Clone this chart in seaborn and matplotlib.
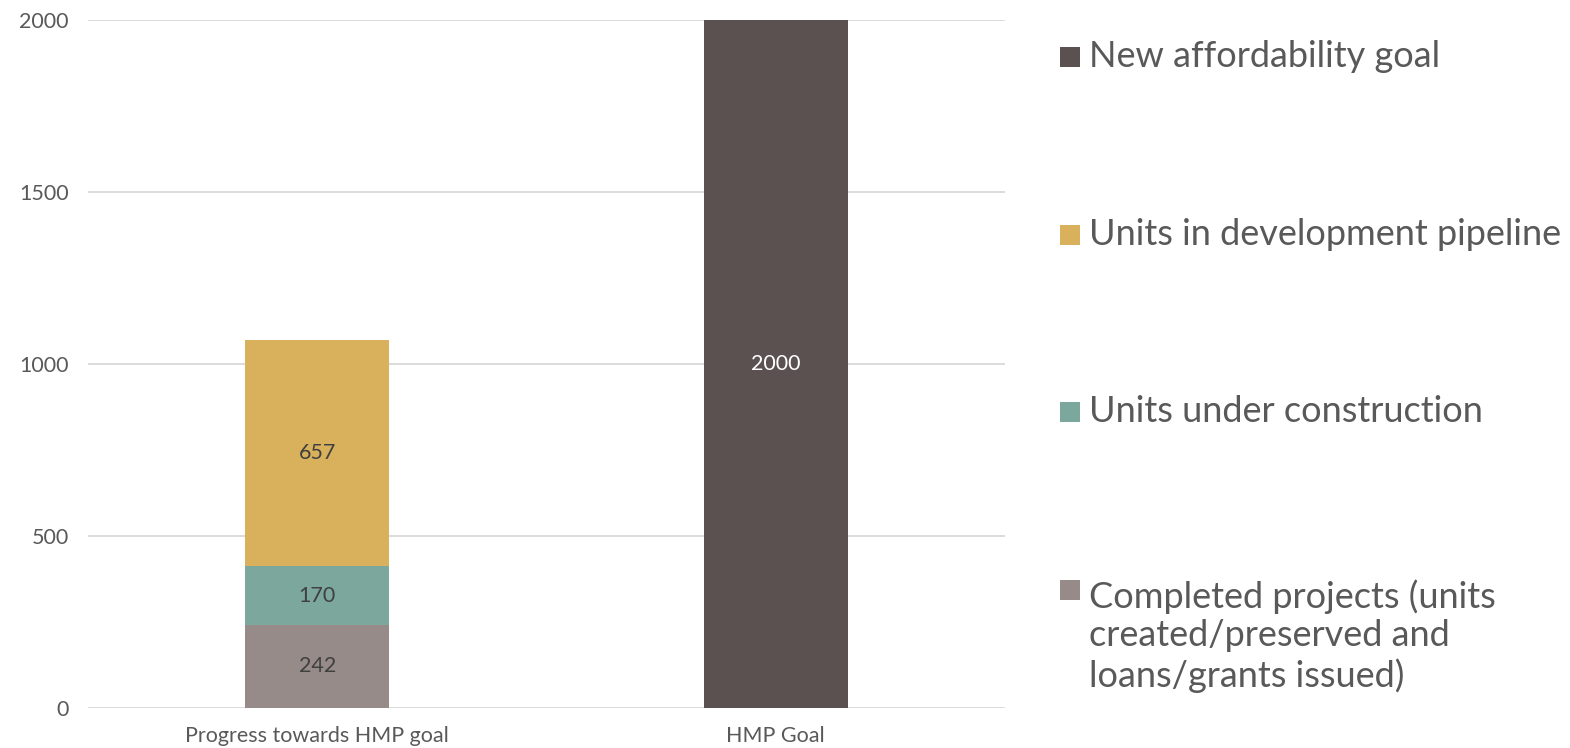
import numpy as np
import pandas as pd
import seaborn as sns
import matplotlib.pyplot as plt
from matplotlib.patches import Rectangle

categories = ["Progress towards HMP goal", "HMP Goal"]
completed = [242, 0]
under_construction = [170, 0]
pipeline = [657, 0]
new_goal = [0, 2000]

series_names = ["Completed projects (units\ncreated/preserved and\nloans/grants issued)",
                "Units under construction",
                "Units in development pipeline",
                "New affordability goal"]
series_values = [completed, under_construction, pipeline, new_goal]
colors = ["#968B89", "#7BA79D", "#D9B15C", "#5B5151"]
label_colors = ["#404040", "#404040", "#404040", "white"]

sns.set_style("white")
plt.rcParams['font.family'] = ['Lato', 'DejaVu Sans']
text_col = "#595959"

W, H = 1570, 748
fig = plt.figure(figsize=(W / 100, H / 100), dpi=100)
ax = fig.add_axes([88 / W, 1 - 708 / H, 917 / W, 688 / H])

bottom = np.zeros(len(categories))
for name, vals, c, lc in zip(series_names, series_values, colors, label_colors):
    df = pd.DataFrame({"cat": categories, "val": vals})
    sns.barplot(data=df, x="cat", y="val", color=c, width=0.314, bottom=bottom,
                ax=ax, saturation=1, edgecolor="none")
    for i, v in enumerate(vals):
        if v > 0:
            ax.text(i, bottom[i] + v / 2, str(v), ha="center", va="center",
                    fontsize=15.5, color=lc)
    bottom = bottom + np.array(vals)

ax.set_xlim(-0.5, 1.5)
ax.set_ylim(0, 2000)
ax.set_yticks([0, 500, 1000, 1500, 2000])
ax.yaxis.grid(True, color="#D9D9D9", lw=1.3)
ax.set_axisbelow(True)
for s in ax.spines.values():
    s.set_visible(False)
ax.tick_params(axis="both", length=0, labelsize=15.5, labelcolor=text_col)
ax.tick_params(axis="y", pad=14)
ax.tick_params(axis="x", pad=13)
ax.set_xlabel("")
ax.set_ylabel("")

# legend, top entry first, handle aligned with the first text line
leg_size = 26
line_px = 1.2 * leg_size * 100 / 72
baselines = [67, 245, 422, 600]
for (name, c), yb in zip(list(zip(series_names, colors))[::-1], baselines):
    fig.patches.append(Rectangle((1060 / W, 1 - yb / H), 20 / W, 20 / H,
                                 transform=fig.transFigure, facecolor=c,
                                 edgecolor="none"))
    n_extra = name.count("\n")
    fig.text(1089 / W, 1 - (yb + n_extra * line_px) / H, name, ha="left",
             va="baseline", fontsize=leg_size, color=text_col, linespacing=1.2)

fig.savefig("out.png", dpi=100)
